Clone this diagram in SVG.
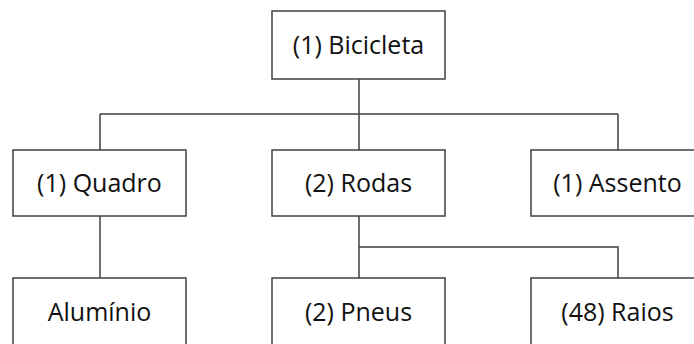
<svg xmlns="http://www.w3.org/2000/svg" width="694" height="344" viewBox="0 0 694 344">
<style>
.box{fill:#fff;stroke:#404040;stroke-width:1.5}
.lbl{font-family:"Open Sans","Liberation Sans",sans-serif;font-size:25px;fill:#111;text-anchor:middle}
.con{fill:none;stroke:#404040;stroke-width:1.5}
</style>
<rect width="694" height="344" fill="#fff"/>
<g id="connectors">
<path class="con" d="M359 79V114M100 114H618M100 114V150M359 114V150M618 114V150"/>
<path class="con" d="M100 216V278"/>
<path class="con" d="M359 216V278M359 247H618V278"/>
</g>
<g id="bicicleta"><rect class="box" x="272" y="11" width="173" height="68"/><text class="lbl" x="358.5" y="54">(1) Bicicleta</text></g>
<g id="quadro"><rect class="box" x="13" y="150" width="173" height="66"/><text class="lbl" x="99.5" y="192">(1) Quadro</text></g>
<g id="rodas"><rect class="box" x="272" y="150" width="173" height="66"/><text class="lbl" x="358.5" y="192">(2) Rodas</text></g>
<g id="assento"><rect class="box" x="531" y="150" width="173" height="66"/><text class="lbl" x="617.5" y="192">(1) Assento</text></g>
<g id="aluminio"><rect class="box" x="13" y="278" width="173" height="80"/><text class="lbl" x="99.5" y="321">Alumínio</text></g>
<g id="pneus"><rect class="box" x="272" y="278" width="173" height="80"/><text class="lbl" x="358.5" y="321">(2) Pneus</text></g>
<g id="raios"><rect class="box" x="531" y="278" width="173" height="80"/><text class="lbl" x="617.5" y="321">(48) Raios</text></g>
</svg>
